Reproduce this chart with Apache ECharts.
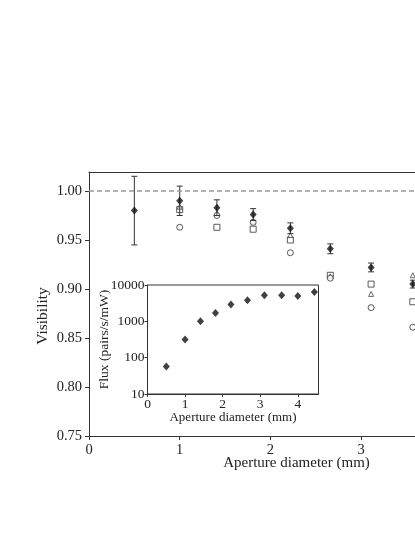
<!DOCTYPE html>
<html>
<head>
<meta charset="utf-8">
<script src="https://cdn.jsdelivr.net/npm/echarts@6/dist/echarts.min.js"></script>
<style>html,body{margin:0;padding:0;background:#fff;}#c{width:415px;height:537px;}</style>
</head>
<body>
<div id="c"></div>
<script>
// Aperture diameters (mm)
var aperture = [0.5, 1.0, 1.41, 1.81, 2.22, 2.66, 3.11, 3.57];
// Visibility series (filled diamonds with error bars)
var visDiamond = [0.980, 0.990, 0.983, 0.976, 0.962, 0.941, 0.922, 0.905];
var visDiamondErr = [0.035, 0.015, 0.008, 0.006, 0.0055, 0.005, 0.0045, 0.004];
// Open markers (no value at 0.5 mm)
var visSquare = [null, 0.981, 0.963, 0.961, 0.950, 0.914, 0.905, 0.887];
var visTriangle = [null, 0.984, 0.977, 0.969, 0.955, 0.913, 0.895, 0.914];
var visCircle = [null, 0.963, 0.975, 0.968, 0.937, 0.911, 0.881, 0.861];
// Inset: flux vs aperture
var fluxAperture = [0.5, 1.0, 1.41, 1.81, 2.22, 2.66, 3.11, 3.57, 4.0, 4.44];
var flux = [57, 316, 1000, 1700, 2900, 3800, 5200, 5200, 4950, 6400];
// Tick settings
var visTicks = [0.75, 0.80, 0.85, 0.90, 0.95, 1.00];
var fluxTicks = [10, 100, 1000, 10000];

function pairs(xs, ys) {
  var out = [];
  for (var i = 0; i < xs.length; i++) if (ys[i] !== null) out.push([xs[i], ys[i]]);
  return out;
}
var errData = aperture.map(function (x, i) {
  return [x, visDiamond[i] - visDiamondErr[i], visDiamond[i] + visDiamondErr[i]];
});

var font = 'Liberation Serif, Times New Roman, serif';
var ink = '#222';

var chart = echarts.init(document.getElementById('c'), null, {renderer: 'canvas'});
chart.setOption({
  backgroundColor: '#fff',
  animation: false,
  textStyle: {fontFamily: font},
  grid: [
    {left: 89, top: 172, right: 0, height: 264, show: false},
    {left: 147.5, top: 285, width: 171, height: 109, show: true, borderColor: '#333', borderWidth: 1, backgroundColor: '#fff', z: 10}
  ],
  xAxis: [
    {
      gridIndex: 0, type: 'value', min: 0, max: 3.594, interval: 1,
      name: 'Aperture diameter (mm)', nameLocation: 'middle', nameGap: 20, nameMoveOverlap: false,
      nameTextStyle: {fontFamily: font, fontSize: 15, color: ink, padding: [0, 0, 0, 89]},
      axisLine: {show: true, onZero: false, lineStyle: {color: '#333'}},
      axisTick: {show: true, length: 4, lineStyle: {color: '#333'}},
      axisLabel: {fontFamily: font, fontSize: 14.5, color: ink, margin: 7, showMaxLabel: false},
      splitLine: {show: false}
    },
    {
      gridIndex: 1, type: 'value', min: 0, max: 4.55, interval: 1,
      name: 'Aperture diameter (mm)', nameLocation: 'middle', nameGap: 17, nameMoveOverlap: false,
      nameTextStyle: {fontFamily: font, fontSize: 13, color: ink},
      axisLine: {show: true, onZero: false, lineStyle: {color: '#333'}},
      axisTick: {show: true, length: 3, lineStyle: {color: '#333'}},
      axisLabel: {fontFamily: font, fontSize: 13.5, color: ink, margin: 3, showMaxLabel: false},
      splitLine: {show: false}, z: 10
    },
    {
      gridIndex: 0, type: 'value', position: 'top', min: 0, max: 3.594,
      axisLine: {show: true, onZero: false, lineStyle: {color: '#333'}},
      axisTick: {show: false}, axisLabel: {show: false}, splitLine: {show: false}
    }
  ],
  yAxis: [
    {
      gridIndex: 0, type: 'value', min: 0.75, max: 1.0194, interval: 0.05,
      name: 'Visibility', nameLocation: 'middle', nameGap: 38, nameRotate: 90, nameMoveOverlap: false,
      nameTextStyle: {fontFamily: font, fontSize: 15.5, color: ink, padding: [0, 24, 0, 0]},
      axisLine: {show: true, lineStyle: {color: '#333'}},
      axisTick: {show: true, length: 4, lineStyle: {color: '#333'}},
      axisLabel: {fontFamily: font, fontSize: 14.5, color: ink, margin: 7, showMaxLabel: false,
        formatter: function (v) { return visTicks.indexOf(Math.round(v * 100) / 100) >= 0 ? v.toFixed(2) : ''; }},
      splitLine: {show: false}
    },
    {
      gridIndex: 1, type: 'log', logBase: 10, min: fluxTicks[0], max: fluxTicks[fluxTicks.length - 1],
      name: 'Flux (pairs/s/mW)', nameLocation: 'middle', nameGap: 36, nameRotate: 90, nameMoveOverlap: false,
      nameTextStyle: {fontFamily: font, fontSize: 13.5, color: ink},
      axisLine: {show: true, lineStyle: {color: '#333'}},
      axisTick: {show: true, length: 3, lineStyle: {color: '#333'}},
      axisLabel: {fontFamily: font, fontSize: 13.5, color: ink, margin: 3,
        formatter: function (v) { return String(Math.round(v)); }},
      minorTick: {show: false},
      splitLine: {show: false}, z: 10
    }
  ],
  series: [
    {
      type: 'line', xAxisIndex: 0, yAxisIndex: 0, data: [], silent: true,
      markLine: {
        silent: true, symbol: 'none', label: {show: false},
        lineStyle: {color: '#999', type: [5, 3], width: 1.5},
        data: [{yAxis: 1.0}]
      }
    },
    {
      type: 'custom', xAxisIndex: 0, yAxisIndex: 0, data: errData, z: 3,
      renderItem: function (params, api) {
        var x = api.value(0);
        var lo = api.coord([x, api.value(1)]);
        var hi = api.coord([x, api.value(2)]);
        var w = 3;
        var st = {stroke: '#333', lineWidth: 1};
        return {type: 'group', children: [
          {type: 'line', shape: {x1: lo[0], y1: lo[1], x2: hi[0], y2: hi[1]}, style: st},
          {type: 'line', shape: {x1: lo[0] - w, y1: lo[1], x2: lo[0] + w, y2: lo[1]}, style: st},
          {type: 'line', shape: {x1: hi[0] - w, y1: hi[1], x2: hi[0] + w, y2: hi[1]}, style: st}
        ]};
      }
    },
    {
      type: 'scatter', xAxisIndex: 0, yAxisIndex: 0, data: pairs(aperture, visSquare),
      symbol: 'rect', symbolSize: 6,
      itemStyle: {color: '#fff', borderColor: '#333', borderWidth: 1}, z: 2
    },
    {
      type: 'scatter', xAxisIndex: 0, yAxisIndex: 0, data: pairs(aperture, visTriangle),
      symbol: 'triangle', symbolSize: 5,
      itemStyle: {color: '#fff', borderColor: '#444', borderWidth: 1}, z: 2
    },
    {
      type: 'scatter', xAxisIndex: 0, yAxisIndex: 0, data: pairs(aperture, visCircle),
      symbol: 'circle', symbolSize: 6,
      itemStyle: {color: '#fff', borderColor: '#333', borderWidth: 1}, z: 2
    },
    {
      type: 'scatter', xAxisIndex: 0, yAxisIndex: 0, data: pairs(aperture, visDiamond),
      symbol: 'diamond', symbolSize: [7, 8],
      itemStyle: {color: '#111'}, z: 4
    },
    {
      type: 'scatter', xAxisIndex: 1, yAxisIndex: 1, data: pairs(fluxAperture, flux),
      symbol: 'diamond', symbolSize: [7, 8],
      itemStyle: {color: '#111'}, z: 12
    }
  ]
});
</script>
</body>
</html>
